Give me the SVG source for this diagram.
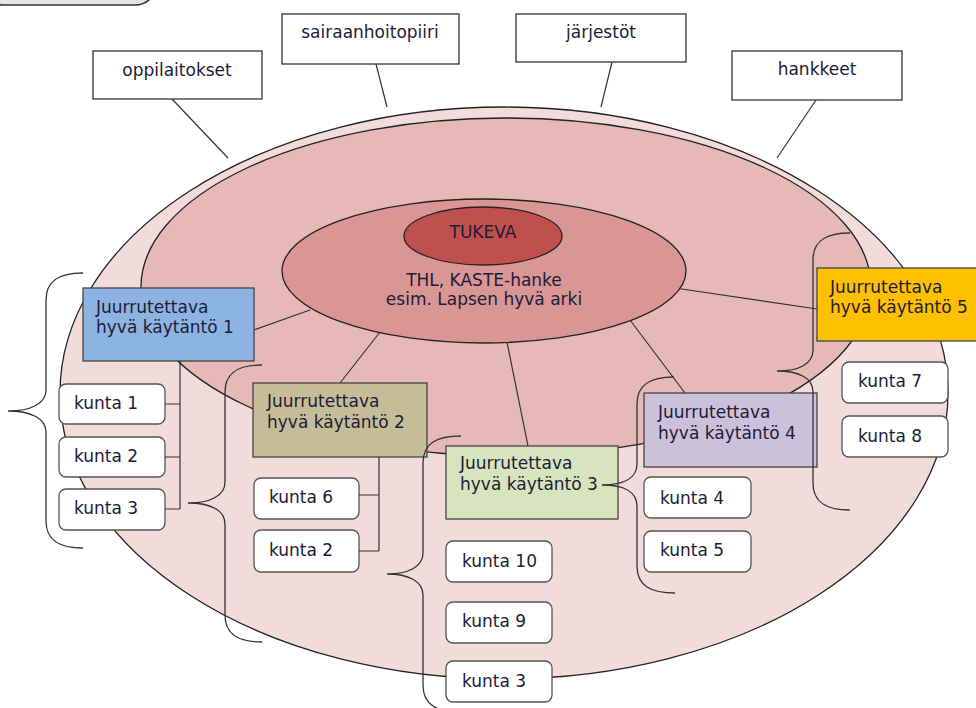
<svg xmlns="http://www.w3.org/2000/svg" width="976" height="708" viewBox="0 0 976 708">
<style>
text{font-family:"DejaVu Sans","Liberation Sans",sans-serif;font-size:17px;fill:#1c1c38}
.c{text-anchor:middle}
.top{fill:#fff;stroke:#333;stroke-width:1.3}
.k{fill:#fff;stroke:#555;stroke-width:1.3}
.p{stroke:#444;stroke-width:1.3}
.ln{stroke:#333;stroke-width:1.2;fill:none}
.br{stroke:#333;stroke-width:1.3;fill:none}
.el{stroke:#222;stroke-width:1.3}
</style>
<rect width="976" height="708" fill="#fff"/>
<rect x="-20" y="-40" width="177" height="45" rx="22" fill="#e6e6e6" stroke="#333" stroke-width="1.6"/>

<g id="outer"><ellipse cx="504" cy="393" rx="444" ry="286" fill="#f2dcdb" class="el"/></g>
<g id="middle"><ellipse cx="506" cy="287" rx="365" ry="169" fill="#e6b9b8" class="el"/></g>

<g id="connectors">
<line class="ln" x1="172" y1="99" x2="228" y2="158"/>
<line class="ln" x1="376" y1="64" x2="387" y2="107"/>
<line class="ln" x1="612" y1="62" x2="601" y2="107"/>
<line class="ln" x1="816" y1="100" x2="777" y2="158"/>
<line class="ln" x1="254" y1="330" x2="310" y2="310"/>
<line class="ln" x1="340" y1="383" x2="380" y2="332"/>
<line class="ln" x1="528" y1="446" x2="507" y2="342"/>
<line class="ln" x1="685" y1="393" x2="630" y2="320"/>
<line class="ln" x1="817" y1="309" x2="675" y2="288"/>
</g>

<g id="thl"><ellipse cx="484" cy="271" rx="202" ry="72" fill="#d99694" class="el"/>
<text class="c" x="484" y="286">THL, KASTE-hanke</text>
<text class="c" x="484" y="305">esim. Lapsen hyvä arki</text></g>
<g id="tukeva"><ellipse cx="483" cy="236" rx="79" ry="29" fill="#c0504d" class="el"/>
<text class="c" x="483" y="238">TUKEVA</text></g>

<g id="oppilaitokset"><rect class="top" x="93" y="51" width="169" height="48"/><text class="c" x="177" y="76">oppilaitokset</text></g>
<g id="sairaanhoitopiiri"><rect class="top" x="282" y="14" width="177" height="50"/><text class="c" x="370" y="38">sairaanhoitopiiri</text></g>
<g id="jarjestot"><rect class="top" x="516" y="14" width="170" height="48"/><text class="c" x="601" y="38">järjestöt</text></g>
<g id="hankkeet"><rect class="top" x="732" y="51" width="170" height="49"/><text class="c" x="817" y="75">hankkeet</text></g>

<g id="kaytanto1"><rect class="p" x="83" y="288" width="171" height="73" fill="#8db3e2"/><text x="96" y="313">Juurrutettava</text><text x="96" y="333">hyvä käytäntö 1</text></g>
<g id="kaytanto2"><rect class="p" x="253" y="383" width="174" height="74" fill="#c4bd97"/><text x="267" y="407">Juurrutettava</text><text x="267" y="428">hyvä käytäntö 2</text></g>
<g id="kaytanto3"><rect class="p" x="446" y="446" width="172" height="73" fill="#d7e4bd"/><text x="460" y="469">Juurrutettava</text><text x="460" y="490">hyvä käytäntö 3</text></g>
<g id="kaytanto4"><rect class="p" x="644" y="393" width="173" height="74" fill="#ccc1da"/><text x="658" y="418">Juurrutettava</text><text x="658" y="439">hyvä käytäntö 4</text></g>
<g id="kaytanto5"><rect class="p" x="817" y="268" width="165" height="73" fill="#ffc000"/><text x="830" y="293">Juurrutettava</text><text x="830" y="313">hyvä käytäntö 5</text></g>

<g id="kunta1"><rect class="k" x="59" y="384" width="106" height="40" rx="7"/><text x="74" y="409">kunta 1</text></g>
<g id="kunta2a"><rect class="k" x="59" y="437" width="106" height="40" rx="7"/><text x="74" y="462">kunta 2</text></g>
<g id="kunta3a"><rect class="k" x="59" y="489" width="106" height="41" rx="7"/><text x="74" y="514">kunta 3</text></g>
<g id="kunta6"><rect class="k" x="254" y="478" width="105" height="41" rx="7"/><text x="269" y="503">kunta 6</text></g>
<g id="kunta2b"><rect class="k" x="254" y="530" width="105" height="42" rx="7"/><text x="269" y="556">kunta 2</text></g>
<g id="kunta10"><rect class="k" x="446" y="541" width="106" height="41" rx="7"/><text x="462" y="567">kunta 10</text></g>
<g id="kunta9"><rect class="k" x="446" y="602" width="106" height="41" rx="7"/><text x="462" y="627">kunta 9</text></g>
<g id="kunta3b"><rect class="k" x="446" y="661" width="106" height="41" rx="7"/><text x="462" y="687">kunta 3</text></g>
<g id="kunta4"><rect class="k" x="644" y="477" width="107" height="41" rx="7"/><text x="660" y="504">kunta 4</text></g>
<g id="kunta5"><rect class="k" x="644" y="531" width="107" height="41" rx="7"/><text x="660" y="556">kunta 5</text></g>
<g id="kunta7"><rect class="k" x="842" y="362" width="106" height="41" rx="7"/><text x="858" y="387">kunta 7</text></g>
<g id="kunta8"><rect class="k" x="842" y="416" width="106" height="41" rx="7"/><text x="858" y="442">kunta 8</text></g>

<g id="links">
<path class="ln" d="M180,361 V509 M165,404 H180 M165,457 H180 M165,509 H180"/>
<path class="ln" d="M379,457 V551 M359,495 H379 M359,551 H379"/>
</g>

<g id="braces">
<path class="br" d="M83,273 C60,273 46,280 46,300 L46,390 C46,404 30,411 8,411 C30,411 46,418 46,432 L46,521 C46,541 60,548 83,548"/>
<path class="br" d="M262,365 C239,365 225,372 225,392 L225,482 C225,496 210,503 188,503 C210,503 225,510 225,524 L225,615 C225,635 239,642 262,642"/>
<path class="br" d="M461,436 C437,436 423,443 423,463 L423,553 C423,567 408,574 387,574 C408,574 423,581 423,595 L423,685 C423,705 437,712 461,712"/>
<path class="br" d="M674,377 C651,377 637,384 637,404 L637,464 C637,478 624,485 602,485 C624,485 637,492 637,506 L637,566 C637,586 651,593 675,593"/>
<path class="br" d="M850,233 C827,233 813,240 813,260 L813,350 C813,364 799,371 777,371 C799,371 813,378 813,392 L813,483 C813,503 827,510 850,510"/>
</g>
</svg>
